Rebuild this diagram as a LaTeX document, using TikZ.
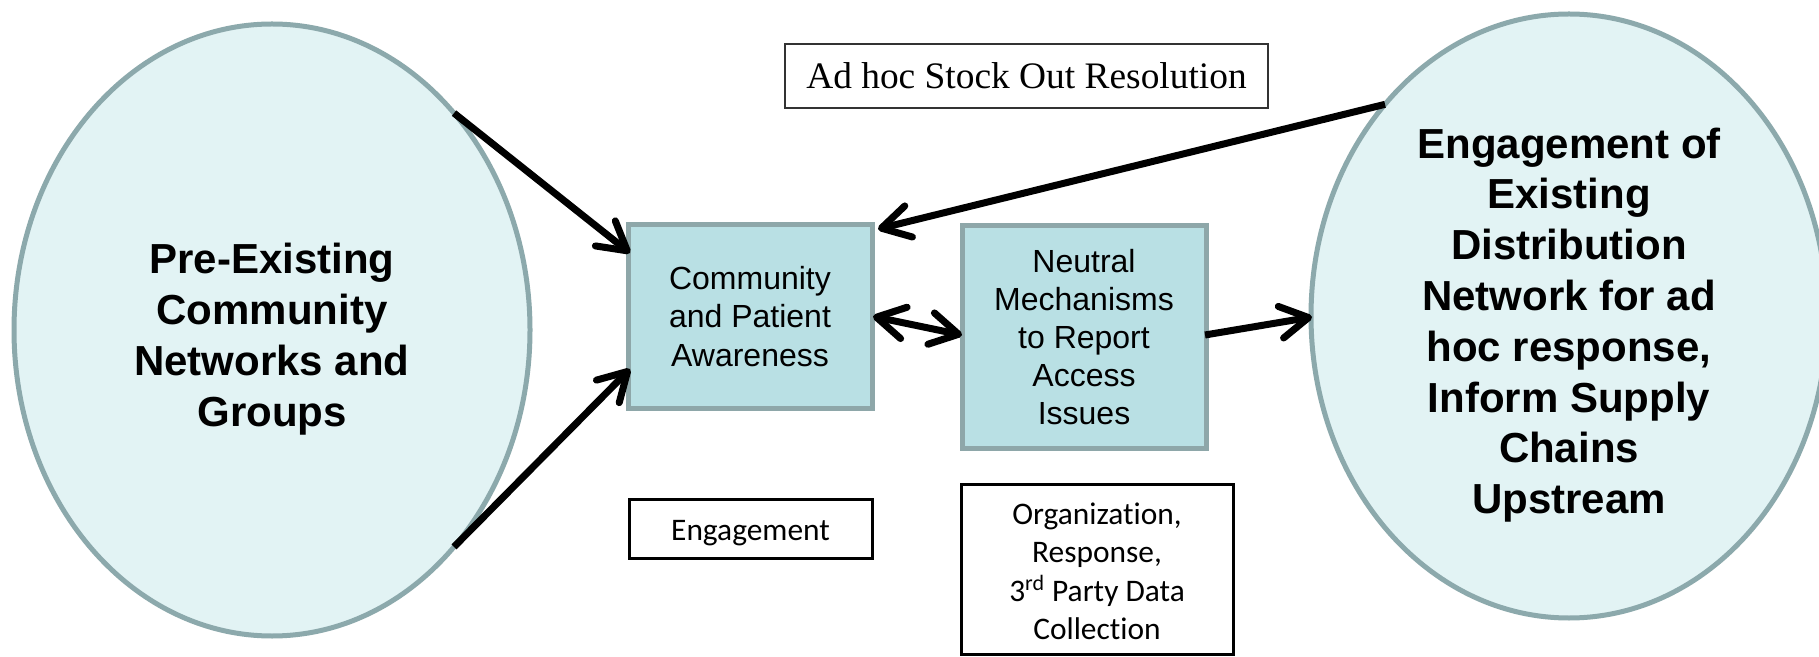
\documentclass[tikz,border=0pt]{standalone}
\usepackage{fontspec}
\setmainfont{Liberation Serif}
\setsansfont{Liberation Sans}
\newfontfamily\calibri[Ligatures=NoCommon]{Carlito}
\usetikzlibrary{arrows.meta,shapes.geometric,calc}
\definecolor{ellfill}{HTML}{E2F3F4}
\definecolor{ellline}{HTML}{8CA9AC}
\definecolor{boxfill}{HTML}{B9E0E4}
\definecolor{boxline}{HTML}{8EA7A9}
\begin{document}
\begin{tikzpicture}[x=0.5pt,y=-0.5pt,
  bigell/.style={ellipse, draw=ellline, fill=ellfill, line width=2.5pt, inner sep=0pt, outer sep=0pt},
  elltext/.style={align=center, inner sep=0pt, font=\sffamily\bfseries\fontsize{21}{25.4}\selectfont},
  tealbox/.style={rectangle, draw=boxline, fill=boxfill, line width=2.5pt, inner sep=0pt, outer sep=0pt, align=center,
    font=\sffamily\fontsize{16}{19.1}\selectfont},
  plainbox/.style={rectangle, draw=black, line width=1.5pt, inner sep=0pt, outer sep=0pt, align=center,
    font=\calibri\fontsize{15.7}{19.1}\selectfont},
  plaintext/.style={align=center, inner sep=0pt, font=\calibri\fontsize{15.7}{19.1}\selectfont},
  titlebox/.style={rectangle, draw=black!80, line width=0.75pt, inner sep=0pt, outer sep=0pt,
    font=\rmfamily\fontsize{18.7}{22}\selectfont},
  conn/.style={line width=3.5pt, black, -{Straight Barb[length=14pt,width=16pt,round]}},
  dconn/.style={line width=3.5pt, black, {Straight Barb[length=14pt,width=16pt,round]}-{Straight Barb[length=14pt,width=16pt,round]}},
  ]
\useasboundingbox (0,0) rectangle (1819,657);
\fill[white] (0,0) rectangle (1819,657);

\node[bigell, minimum width=258pt, minimum height=306pt] (L) at (272,330) {};
\node[elltext] (Lt) at ($(L.center)+(0,9)$)
  {Pre-Existing\\Community\\Networks and\\Groups};
\node[bigell, minimum width=258pt, minimum height=302pt] (R) at (1569,316) {};
\node[elltext] (Rt) at ($(R.center)+(0,9)$)
  {Engagement of\\Existing\\Distribution\\Network for ad\\hoc response,\\Inform Supply\\Chains\\Upstream};

\node[tealbox, minimum width=122pt, minimum height=91.5pt] (C) at (750,316.5)
  {Community\\and Patient\\Awareness};
\node[tealbox, minimum width=122pt, minimum height=111pt] (N) at (1084,337)
  {Neutral\\Mechanisms\\to Report\\Access\\Issues};

\node[titlebox, minimum width=241.5pt, minimum height=32pt] (A) at (1026.5,76)
  {Ad hoc Stock Out Resolution};
\node[plainbox, minimum width=121.5pt, minimum height=29.5pt] (E) at (750.5,528.5) {};
\node[plaintext] (Et) at ($(E.center)+(0,5)$) {Engagement};
\node[plainbox, minimum width=136pt, minimum height=84.75pt] (O) at (1097,569.25) {};
\node[plaintext] (Ot) at ($(O.center)+(0,2)$)
  {Organization,\\Response,\\3\textsuperscript{rd} Party Data\\Collection};

\draw[conn] (L.50) -- ($(C.north west)+(2,28)$);
\draw[conn] (L.-50) -- ($(C.south west)+(2,-39)$);
\draw[conn] (R.131) -- ($(C.north east)+(6,4)$);
\draw[dconn] ($(C.east)+(1,0)$) -- ($(N.west)+(0,-2)$);
\draw[conn] ($(N.east)+(-1,-2)$) -- ($(R.west)+(1,1)$);
\end{tikzpicture}
\end{document}
